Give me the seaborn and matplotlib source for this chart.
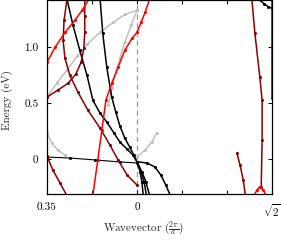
import matplotlib
matplotlib.use("Agg")
import matplotlib.pyplot as plt
import pandas as pd
import seaborn as sns

# path coordinate along the cut: 0 -> k=0.35, 2 -> Gamma (0), 5 -> sqrt(2)
xticks = [0, 1, 2, 3, 4, 5]
xticklabels = ["0.35", "", "0", "", "", r"$\sqrt{2}$"]
yticks = [0, 0.5, 1.0]
yticklabels = ["0", "0.5", "1.0"]

# bands (t = path coordinate, E = energy in eV)
red1_t = [0, 0.18, 0.40, 0.62, 0.78, 0.95]
red1_E = [0.867, 1.0, 1.133, 1.24, 1.33, 1.44]
red2_t = [1.02, 1.13, 1.22, 1.31, 1.44, 1.58, 1.73, 1.89, 2.0, 2.09, 2.18, 2.29]
red2_E = [-0.32, -0.004, 0.262, 0.529, 0.68, 0.822, 0.973, 1.08, 1.133, 1.222, 1.311, 1.44]
redv_t = [4.6, 4.67, 4.73, 4.8, 4.87]
redv_E = [-0.32, -0.27, -0.244, -0.27, -0.32]

dred1_t = [0.45, 0.38, 0.36, 0.40, 0.51, 0.69, 0.91, 1.18, 1.40, 1.58, 1.78, 2.0]
dred1_E = [1.44, 1.24, 1.062, 0.902, 0.751, 0.60, 0.44, 0.28, 0.129, -0.004, -0.138, -0.227]
dred2_t = [0, 0.24, 0.47, 0.64, 0.76, 0.82, 0.84, 0.84, 0.84]
dred2_E = [0.556, 0.618, 0.68, 0.76, 0.867, 0.991, 1.133, 1.284, 1.44]
dred3_t = [0, 0.13, 0.29, 0.44]
dred3_E = [0.031, -0.093, -0.209, -0.32]
dred4_t = [4.55, 4.62, 4.73, 4.78, 4.78, 4.76]
dred4_E = [1.44, 1.124, 0.733, 0.529, 0.173, -0.244]
dred5_t = [4.22, 4.29, 4.36, 4.41]
dred5_E = [0.058, -0.049, -0.182, -0.32]
dred6_t = [4.99, 4.99, 4.99]
dred6_E = [1.44, 1.0, 0.55]

blk1_t = [0.44, 0.58, 0.73, 0.89, 1.02, 1.18, 1.33, 1.49, 1.62, 1.78, 1.91, 2.0]
blk1_E = [1.44, 1.196, 0.973, 0.751, 0.529, 0.413, 0.333, 0.236, 0.156, 0.093, 0.04, -0.02]
blk2_t = [1.18, 1.24, 1.33, 1.44, 1.53, 1.62, 1.73, 1.84, 1.93, 2.0]
blk2_E = [1.44, 1.124, 0.822, 0.556, 0.422, 0.30, 0.19, 0.11, 0.04, -0.02]
blkf_t = [0, 0.51, 1.07, 1.62, 2.0]
blkf_E = [0.022, 0.013, -0.004, -0.022, -0.031]
blk3_t = [2.0, 2.07, 2.11, 2.14]
blk4_t = [2.0, 2.09, 2.16, 2.21]
blk5_t = [2.0, 2.11, 2.2, 2.28]
blk345_E = [-0.02, -0.111, -0.2, -0.32]
blk6_t = [2.0, 2.22, 2.4, 2.53, 2.64, 2.74]
blk6_E = [-0.02, -0.031, -0.067, -0.138, -0.227, -0.32]
blk7_t = [4.66, 4.82, 4.91, 5.0]
blk7_E = [1.44, 1.391, 1.364, 1.347]

gry1_t = [0, 0.22, 0.44, 0.67, 0.89, 1.18, 1.47, 1.73, 2.0]
gry1_E = [0.556, 0.68, 0.796, 0.92, 1.027, 1.133, 1.222, 1.293, 1.33]
gry2_t = [1.36, 1.44, 1.53, 1.62, 1.73, 1.87, 2.0]
gry2_E = [0.484, 0.636, 0.778, 0.902, 1.044, 1.196, 1.33]
gry3_t = [0, 0.11, 0.24, 0.40]
gry3_E = [0.236, 0.147, 0.084, 0.04]
gry4_t = [2.0, 2.18, 2.33, 2.44]
gry4_E = [0.022, 0.084, 0.156, 0.236]

RED, DRED, BLK, GRY = "#ff0000", "#8b0000", "#000000", "#c0c0c0"

bands = [
    (gry1_t, gry1_E, GRY), (gry2_t, gry2_E, GRY), (gry3_t, gry3_E, GRY), (gry4_t, gry4_E, GRY),
    (blkf_t, blkf_E, BLK), (blk1_t, blk1_E, BLK), (blk2_t, blk2_E, BLK),
    (blk3_t, blk345_E, BLK), (blk4_t, blk345_E, BLK), (blk5_t, blk345_E, BLK),
    (blk6_t, blk6_E, BLK), (blk7_t, blk7_E, BLK),
    (dred1_t, dred1_E, DRED), (dred2_t, dred2_E, DRED), (dred3_t, dred3_E, DRED),
    (dred4_t, dred4_E, DRED), (dred5_t, dred5_E, DRED), (dred6_t, dred6_E, DRED),
    (red1_t, red1_E, RED), (red2_t, red2_E, RED), (redv_t, redv_E, RED),
]

sns.set_style("ticks")
plt.rcParams["font.family"] = "serif"
plt.rcParams["font.serif"] = ["cmr10", "DejaVu Serif"]
plt.rcParams["mathtext.fontset"] = "cm"
plt.rcParams["axes.unicode_minus"] = False
plt.rcParams["axes.formatter.use_mathtext"] = True

fig = plt.figure(figsize=(2.81, 2.40), dpi=100)
ax = fig.add_axes([0.167, 0.192, 0.801, 0.806])

ax.axvline(2, color="#999999", lw=0.9, ls=(0, (4, 3)), zorder=0)

for t, e, c in bands:
    df = pd.DataFrame({"t": t, "E": e})
    lw = 0.8 if t is blkf_t else 1.1
    sns.lineplot(data=df, x="t", y="E", sort=False, estimator=None, color=c,
                 lw=lw, marker="o", markersize=2.2, markeredgewidth=0, ax=ax)

ax.set_xlim(0, 5)
ax.set_ylim(-0.307, 1.418)
ax.set_xticks(xticks)
ax.set_xticklabels(xticklabels)
ax.set_yticks(yticks)
ax.set_yticklabels(yticklabels)
ax.tick_params(direction="in", length=3, width=0.7, top=True, right=True,
               labelsize=8, pad=6, colors="black")
for s in ax.spines.values():
    s.set_linewidth(0.9)
    s.set_color("black")

ax.set_xlabel(r"Wavevector ($\frac{2\pi}{a}$)", fontsize=8)
ax.set_ylabel("Energy (eV)", fontsize=8)
ax.xaxis.set_label_coords((143 - 47) / 225, -0.135)
ax.yaxis.set_label_coords(-0.15, 0.485)

fig.savefig("out.png", dpi=100)
